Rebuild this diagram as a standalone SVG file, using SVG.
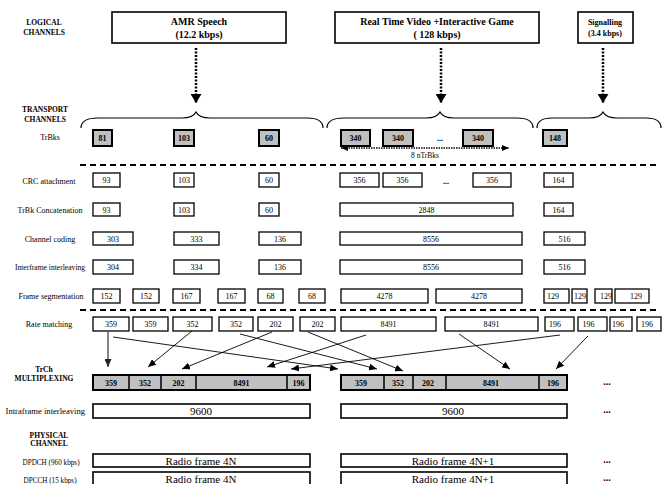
<svg xmlns="http://www.w3.org/2000/svg" width="668" height="484" viewBox="0 0 668 484" font-family="'Liberation Serif', 'Times New Roman', serif">
<style>
text{font-family:'Liberation Serif','Times New Roman',serif;fill:#000}
.lbl{font-family:'Liberation Serif',serif;font-size:8px;text-anchor:middle}
.hd{font-family:'Liberation Serif',serif;font-size:7.5px;font-weight:bold;text-anchor:middle}
.num{font-family:'Liberation Serif',serif;font-size:8px;text-anchor:middle}
.bnum{font-family:'Liberation Serif',serif;font-size:8px;font-weight:bold;text-anchor:middle}
.big{font-family:'Liberation Serif',serif;font-size:11px;text-anchor:middle}
.title{font-family:'Liberation Serif',serif;font-size:10px;font-weight:bold;text-anchor:middle}
.box{fill:#fff;stroke:#000;stroke-width:1.3}
.lc{fill:#fff;stroke:#000;stroke-width:1.6}
.tb{fill:#c0c0c0;stroke:#000;stroke-width:2}
.mux{fill:#c0c0c0;stroke:#000;stroke-width:2}
.dash{stroke:#000;stroke-width:2;stroke-dasharray:6 4;fill:none}
.dot{stroke:#000;stroke-width:2.5;stroke-dasharray:2 1.5;fill:none}
.brace{stroke:#000;stroke-width:1.2;fill:none}
.conn{stroke:#000;stroke-width:0.9;fill:none}
.dots{font-family:'Liberation Serif',serif;font-size:10px;font-weight:bold;text-anchor:middle}
</style>
<defs>
<marker id="ah" markerUnits="userSpaceOnUse" markerWidth="9" markerHeight="7" refX="8" refY="3.5" orient="auto"><path d="M0,0 L8,3.5 L0,7 z" fill="#000"/></marker>
<marker id="ahg" markerUnits="userSpaceOnUse" markerWidth="9" markerHeight="7" refX="8" refY="3.5" orient="auto"><path d="M0,0 L8,3.5 L0,7 z" fill="#222"/></marker>
<marker id="big" markerUnits="userSpaceOnUse" markerWidth="10" markerHeight="11" refX="9" refY="5.5" orient="auto"><path d="M0,0 L9,5.5 L0,11 z" fill="#000"/></marker>
<marker id="sm" markerUnits="userSpaceOnUse" markerWidth="8" markerHeight="6" refX="7" refY="3" orient="auto-start-reverse"><path d="M0,0 L7,3 L0,6 z" fill="#000"/></marker>
</defs>

<g id="row-labels">
<text class="hd" x="44" y="25">LOGICAL</text>
<text class="hd" x="44" y="35">CHANNELS</text>
<text class="hd" x="45" y="112">TRANSPORT</text>
<text class="hd" x="45" y="122">CHANNELS</text>
<text class="lbl" x="50" y="140">TrBks</text>
<text class="lbl" x="49" y="184">CRC attachment</text>
<text class="lbl" x="50" y="212.5">TrBk Concatenation</text>
<text class="lbl" x="50" y="241.5">Channel coding</text>
<text class="lbl" x="50" y="269.5" style="font-size:7.6px">Interframe interleaving</text>
<text class="lbl" x="51" y="298.5">Frame segmentation</text>
<text class="lbl" x="49" y="326.5">Rate matching</text>
<text class="hd" x="44" y="372">TrCh</text>
<text class="hd" x="44" y="381">MULTIPLEXING</text>
<text class="lbl" x="85" y="414" style="font-size:8.6px;text-anchor:end">Intraframe interleaving</text>
<text class="hd" x="49" y="438">PHYSICAL</text>
<text class="hd" x="49" y="446">CHANNEL</text>
<text class="lbl" x="51" y="465" style="font-size:7.2px">DPDCH (960 kbps)</text>
<text class="lbl" x="50" y="483" style="font-size:7.2px">DPCCH (15 kbps)</text>
</g>

<g id="logical-amr">
<rect class="lc" x="112" y="12" width="174" height="31"/>
<text class="title" x="199" y="25">AMR Speech</text>
<text class="title" x="199" y="37.5">(12.2 kbps)</text>
</g>
<g id="logical-video">
<rect class="lc" x="335" y="12" width="204" height="31"/>
<text class="title" x="437" y="25">Real Time Video +Interactive Game</text>
<text class="title" x="437" y="37.5">( 128 kbps)</text>
</g>
<g id="logical-sig">
<rect class="lc" x="578" y="12" width="55" height="31"/>
<text class="hd" x="605" y="25" style="font-size:8px">Signalling</text>
<text class="hd" x="605" y="36" style="font-size:8px">(3.4 kbps)</text>
</g>

<g id="braces">
<path class="brace" d="M81,128 C81,121 87,118 98,118 L182,118 C190,118 194,116 196,112 C198,116 202,118 210,118 L307,118 C318,118 323,121 323,128"/>
<path class="brace" d="M327,128 C327,121 333,118 344,118 L426,118 C434,118 438,116 440,112 C442,116 446,118 454,118 L517,118 C528,118 533,121 533,128"/>
<path class="brace" d="M537,128 C537,121 543,118 552,118 L589,118 C597,118 601,116 603,112 C605,116 609,118 617,118 L646,118 C656,118 661,121 661,128"/>
</g>

<g id="trbks">
<rect class="tb" x="93" y="130" width="19" height="16"/><text class="bnum" x="102.5" y="141">81</text>
<rect class="tb" x="174" y="130" width="20" height="16"/><text class="bnum" x="184" y="141">103</text>
<rect class="tb" x="259" y="130" width="20" height="16"/><text class="bnum" x="269" y="141">60</text>
<rect class="tb" x="341" y="130" width="29" height="16"/><text class="bnum" x="355.5" y="141">340</text>
<rect class="tb" x="383" y="130" width="30" height="16"/><text class="bnum" x="398" y="141">340</text>
<text class="bnum" x="440" y="141">...</text>
<rect class="tb" x="463" y="130" width="30" height="16"/><text class="bnum" x="478" y="141">340</text>
<rect class="tb" x="543" y="130" width="24" height="16"/><text class="bnum" x="555" y="141">148</text>
<text class="lbl" x="425" y="158" style="font-size:7.5px">8 nTrBks</text>
</g>

<g id="separators">
<line class="dash" x1="80" y1="165" x2="660" y2="165"/>
<line class="dash" x1="80" y1="310" x2="660" y2="310"/>
</g>

<g id="crc">
<rect class="box" x="93" y="173" width="27" height="14"/><text class="num" x="106.5" y="183">93</text>
<rect class="box" x="174" y="173" width="20" height="14"/><text class="num" x="184" y="183">103</text>
<rect class="box" x="259" y="173" width="20" height="14"/><text class="num" x="269" y="183">60</text>
<rect class="box" x="340" y="173" width="39" height="14"/><text class="num" x="359.5" y="183">356</text>
<rect class="box" x="383" y="173" width="39" height="14"/><text class="num" x="402.5" y="183">356</text>
<text class="bnum" x="446" y="184">...</text>
<rect class="box" x="473" y="173" width="38" height="14"/><text class="num" x="492" y="183">356</text>
<rect class="box" x="544" y="173" width="29" height="14"/><text class="num" x="558.5" y="183">164</text>
</g>

<g id="concat">
<rect class="box" x="93" y="203" width="27" height="13"/><text class="num" x="106.5" y="212.5">93</text>
<rect class="box" x="174" y="203" width="20" height="13"/><text class="num" x="184" y="212.5">103</text>
<rect class="box" x="259" y="203" width="20" height="13"/><text class="num" x="269" y="212.5">60</text>
<rect class="box" x="340" y="203" width="173" height="13"/><text class="num" x="426.5" y="212.5">2848</text>
<rect class="box" x="544" y="203" width="29" height="13"/><text class="num" x="558.5" y="212.5">164</text>
</g>

<g id="coding">
<rect class="box" x="93" y="232" width="40" height="13"/><text class="num" x="113" y="241.5">303</text>
<rect class="box" x="174" y="232" width="45" height="13"/><text class="num" x="196.5" y="241.5">333</text>
<rect class="box" x="259" y="232" width="42" height="13"/><text class="num" x="280" y="241.5">136</text>
<rect class="box" x="340" y="232" width="182" height="13"/><text class="num" x="431" y="241.5">8556</text>
<rect class="box" x="544" y="232" width="41" height="13"/><text class="num" x="564.5" y="241.5">516</text>
</g>

<g id="interframe">
<rect class="box" x="93" y="260" width="40" height="14"/><text class="num" x="113" y="270">304</text>
<rect class="box" x="174" y="260" width="45" height="14"/><text class="num" x="196.5" y="270">334</text>
<rect class="box" x="259" y="260" width="42" height="14"/><text class="num" x="280" y="270">136</text>
<rect class="box" x="340" y="260" width="182" height="14"/><text class="num" x="431" y="270">8556</text>
<rect class="box" x="544" y="260" width="41" height="14"/><text class="num" x="564.5" y="270">516</text>
</g>

<g id="segmentation">
<rect class="box" x="93" y="289" width="27" height="14"/><text class="num" x="106.5" y="299">152</text>
<rect class="box" x="133" y="289" width="26" height="14"/><text class="num" x="146" y="299">152</text>
<rect class="box" x="173" y="289" width="27" height="14"/><text class="num" x="186.5" y="299">167</text>
<rect class="box" x="218" y="289" width="27" height="14"/><text class="num" x="231.5" y="299">167</text>
<rect class="box" x="258" y="289" width="25" height="14"/><text class="num" x="270.5" y="299">68</text>
<rect class="box" x="299" y="289" width="26" height="14"/><text class="num" x="312" y="299">68</text>
<rect class="box" x="341" y="289" width="87" height="14"/><text class="num" x="384.5" y="299">4278</text>
<rect class="box" x="436" y="289" width="86" height="14"/><text class="num" x="479" y="299">4278</text>
<rect class="box" x="544" y="289" width="25" height="14"/><text class="num" x="553" y="299">129</text>
<rect class="box" x="572" y="289" width="15" height="14"/><text class="num" x="580" y="299">129</text>
<rect class="box" x="595" y="289" width="17" height="14"/><text class="num" x="606" y="299">129</text>
<rect class="box" x="615" y="289" width="34" height="14"/><text class="num" x="636" y="299">129</text>
</g>

<g id="ratematching">
<rect class="box" x="93" y="317" width="36" height="14"/><text class="num" x="111" y="327">359</text>
<rect class="box" x="133" y="317" width="35" height="14"/><text class="num" x="150.5" y="327">359</text>
<rect class="box" x="173" y="317" width="39" height="14"/><text class="num" x="192.5" y="327">352</text>
<rect class="box" x="219" y="317" width="34" height="14"/><text class="num" x="236" y="327">352</text>
<rect class="box" x="258" y="317" width="35" height="14"/><text class="num" x="275.5" y="327">202</text>
<rect class="box" x="300" y="317" width="35" height="14"/><text class="num" x="317.5" y="327">202</text>
<rect class="box" x="341" y="317" width="95" height="14"/><text class="num" x="388.5" y="327">8491</text>
<rect class="box" x="445" y="317" width="93" height="14"/><text class="num" x="491.5" y="327">8491</text>
<rect class="box" x="545" y="317" width="29" height="14"/><text class="num" x="555" y="327">196</text>
<rect class="box" x="578" y="317" width="29" height="14"/><text class="num" x="588.5" y="327">196</text>
<rect class="box" x="610" y="317" width="22" height="14"/><text class="num" x="618" y="327">196</text>
<rect class="box" x="637" y="317" width="24" height="14"/><text class="num" x="647" y="327">196</text>
</g>

<g id="connectors">
<line x1="196" y1="48" x2="196" y2="103" class="dot" marker-end="url(#big)"/>
<line x1="441" y1="48" x2="441" y2="103" class="dot" marker-end="url(#big)"/>
<line x1="603" y1="48" x2="603" y2="103" class="dot" marker-end="url(#big)"/>
<line x1="341" y1="148" x2="509" y2="148" stroke="#000" stroke-width="1.3" stroke-dasharray="1.5 1" marker-start="url(#sm)" marker-end="url(#sm)"/>
<line class="conn" x1="108" y1="331" x2="108" y2="367" style="stroke:#444;stroke-width:1.3" marker-end="url(#ahg)"/>
<line class="conn" x1="113" y1="337" x2="338" y2="369" marker-end="url(#ah)"/>
<line class="conn" x1="192" y1="331" x2="148" y2="367" marker-end="url(#ah)"/>
<line class="conn" x1="240" y1="334" x2="377" y2="369" marker-end="url(#ah)"/>
<line class="conn" x1="272" y1="332" x2="182" y2="369" marker-end="url(#ah)"/>
<line class="conn" x1="308" y1="332" x2="403" y2="371" marker-end="url(#ah)"/>
<line class="conn" x1="366" y1="335" x2="267" y2="367" marker-end="url(#ah)"/>
<line class="conn" x1="560" y1="335" x2="291" y2="369" marker-end="url(#ah)"/>
<line class="conn" x1="459" y1="334" x2="510" y2="369" marker-end="url(#ah)"/>
<line class="conn" x1="588" y1="336" x2="556" y2="369" marker-end="url(#ah)"/>
</g>

<g id="mux-1">
<rect class="mux" x="93" y="375" width="217" height="15"/>
<line x1="129" y1="375" x2="129" y2="390" stroke="#000" stroke-width="1.5"/>
<line x1="161" y1="375" x2="161" y2="390" stroke="#000" stroke-width="1.5"/>
<line x1="196" y1="375" x2="196" y2="390" stroke="#000" stroke-width="1.5"/>
<line x1="287" y1="375" x2="287" y2="390" stroke="#000" stroke-width="1.5"/>
<text class="bnum" x="111" y="385.5">359</text>
<text class="bnum" x="145" y="385.5">352</text>
<text class="bnum" x="178.5" y="385.5">202</text>
<text class="bnum" x="241.5" y="385.5">8491</text>
<text class="bnum" x="298.5" y="385.5">196</text>
</g>
<g id="mux-2">
<rect class="mux" x="341" y="375" width="226" height="15"/>
<line x1="384" y1="375" x2="384" y2="390" stroke="#000" stroke-width="1.5"/>
<line x1="413" y1="375" x2="413" y2="390" stroke="#000" stroke-width="1.5"/>
<line x1="446" y1="375" x2="446" y2="390" stroke="#000" stroke-width="1.5"/>
<line x1="539" y1="375" x2="539" y2="390" stroke="#000" stroke-width="1.5"/>
<text class="bnum" x="361" y="385.5">359</text>
<text class="bnum" x="398" y="385.5">352</text>
<text class="bnum" x="428" y="385.5">202</text>
<text class="bnum" x="491" y="385.5">8491</text>
<text class="bnum" x="553" y="385.5">196</text>
</g>
<text class="dots" x="607" y="385">...</text>

<g id="intraframe">
<rect class="lc" x="93" y="404" width="217" height="14"/><text class="big" x="201" y="414.5">9600</text>
<rect class="lc" x="341" y="404" width="226" height="14"/><text class="big" x="453" y="414.5">9600</text>
<text class="dots" x="607" y="413">...</text>
</g>

<g id="dpdch">
<rect class="lc" x="93" y="454" width="217" height="13"/><text class="big" x="201" y="464.5">Radio frame 4N</text>
<rect class="lc" x="341" y="454" width="226" height="13"/><text class="big" x="453" y="464.5">Radio frame 4N+1</text>
<text class="dots" x="607" y="463">...</text>
</g>
<g id="dpcch">
<rect class="lc" x="93" y="472" width="217" height="16"/><text class="big" x="201" y="483">Radio frame 4N</text>
<rect class="lc" x="341" y="472" width="226" height="16"/><text class="big" x="453" y="483">Radio frame 4N+1</text>
<text class="dots" x="607" y="481">...</text>
</g>
</svg>
